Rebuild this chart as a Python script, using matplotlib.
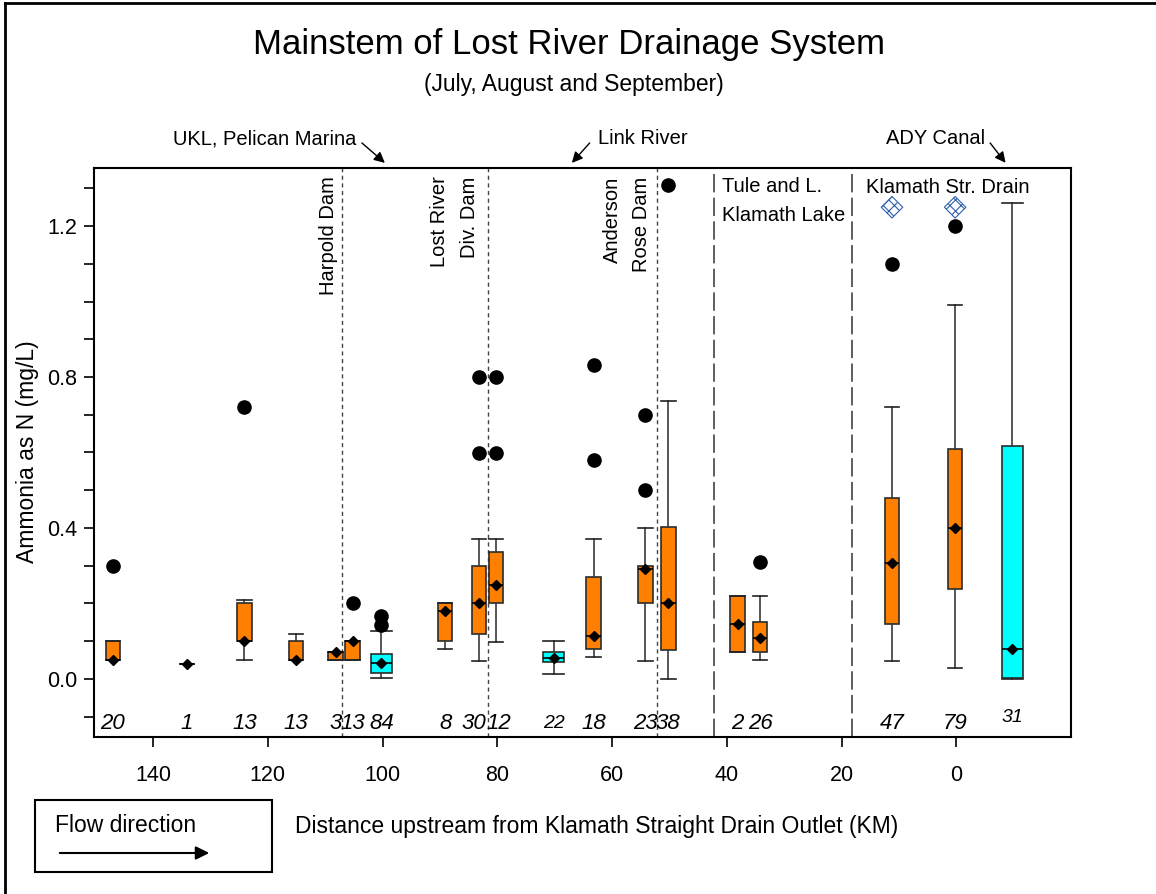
import matplotlib
matplotlib.use("Agg")
import matplotlib.pyplot as plt
from matplotlib.ticker import MultipleLocator, FormatStrFormatter
from matplotlib.lines import Line2D
from matplotlib.patches import Rectangle, FancyArrowPatch

plt.rcParams['font.family'] = ['Liberation Sans', 'DejaVu Sans']
plt.rcParams['hatch.color'] = '#2f5fae'
plt.rcParams['hatch.linewidth'] = 0.8

# sampling sites, distance upstream of the drain outlet (km)
km = [147.0, 134.1, 124.1, 115.1, 108.2, 105.2, 100.2, 89.1, 83.2, 80.2,
      70.2, 63.2, 54.2, 50.2, 38.1, 34.2, 11.2, 0.2, -9.8]
q1 = [0.05, 0.04, 0.10, 0.05, 0.05, 0.05, 0.015, 0.10, 0.118, 0.20,
      0.044, 0.079, 0.20, 0.076, 0.07, 0.07, 0.145, 0.237, 0.002]
med = [0.05, 0.04, 0.10, 0.05, 0.07, 0.10, 0.043, 0.18, 0.20, 0.25,
       0.055, 0.115, 0.29, 0.20, 0.145, 0.108, 0.307, 0.40, 0.078]
q3 = [0.10, 0.04, 0.20, 0.10, 0.07, 0.10, 0.065, 0.20, 0.30, 0.336,
      0.072, 0.269, 0.30, 0.403, 0.22, 0.15, 0.48, 0.61, 0.617]
whislo = [0.05, 0.04, 0.05, 0.05, 0.05, 0.05, 0.003, 0.079, 0.048, 0.099,
          0.013, 0.059, 0.048, 0.0, 0.07, 0.05, 0.047, 0.03, 0.0]
whishi = [0.10, 0.04, 0.21, 0.12, 0.07, 0.10, 0.126, 0.20, 0.37, 0.37,
          0.101, 0.37, 0.40, 0.737, 0.22, 0.22, 0.72, 0.99, 1.262]
outliers = [[0.30], [], [0.72], [], [], [0.20], [0.143, 0.167], [], [0.60, 0.80], [0.60, 0.80],
            [], [0.58, 0.832], [0.50, 0.70], [1.31], [], [0.31], [1.10], [1.20], []]
n_obs = [20, 1, 13, 13, 3, 13, 84, 8, 30, 12, 22, 18, 23, 38, 2, 26, 47, 79, 31]
# 1 = drawn in cyan
highlight = [0, 0, 0, 0, 0, 0, 1, 0, 0, 0, 1, 0, 0, 0, 0, 0, 0, 0, 1]

# values off the scale (hatched markers)
extreme_km = [11.2, 0.2]
extreme_val = [1.25, 1.25]

dam_km = [107.1, 81.6, 52.2]
region_km = [42.2, 18.2]

fig = plt.figure(figsize=(11.56, 8.94), dpi=100)
ax = fig.add_axes([94 / 1156, 157 / 894, 977 / 1156, 569 / 894])
ax.set_xlim(150.3, -20.0)
ax.set_ylim(-0.154, 1.354)

for d in dam_km:
    ax.axvline(d, color='#444444', lw=1.0, dashes=(3, 2.5), zorder=1)
for d in region_km:
    ax.axvline(d, color='#333333', lw=1.1, dashes=(12, 3.5), zorder=1)

stats = []
for i in range(len(km)):
    stats.append(dict(med=med[i], q1=q1[i], q3=q3[i], whislo=whislo[i],
                      whishi=whishi[i], fliers=outliers[i]))

widths = [3.6 if h else 2.55 for h in highlight]
bp = ax.bxp(stats, positions=km, widths=widths, capwidths=widths,
            patch_artist=True, manage_ticks=False,
            boxprops=dict(edgecolor='#2b2b2b', linewidth=1.2),
            whiskerprops=dict(color='#3a3a3a', lw=1.2),
            capprops=dict(color='#222222', lw=1.2),
            medianprops=dict(color='k', lw=1.2),
            flierprops=dict(marker='o', markerfacecolor='k', markeredgecolor='k',
                            markersize=9.5, linestyle='none'))
for patch, h in zip(bp['boxes'], highlight):
    patch.set_facecolor('#00ffff' if h else '#ff8000')

ax.plot(km, med, linestyle='none', marker='D', color='k', markersize=5.5, zorder=4)
ax.scatter(extreme_km, extreme_val, marker='D', s=120, facecolors='none',
           edgecolors='#2f5fae', hatch='xxx', linewidths=0.8, zorder=4)

# sample counts along the bottom
nudge = {8: 0.85, 9: -0.5}
for i, n in enumerate(n_obs):
    small = i in (10, 18)
    ax.text(km[i] + nudge.get(i, 0), -0.103 if i == 18 else -0.117, str(n),
            ha='center', va='center', style='italic', fontsize=14 if small else 16)

# dam / reach labels
ax.text(109.5, 1.332, 'Harpold Dam', rotation=90, ha='center', va='top', fontsize=14.5)
ax.text(90.0, 1.332, 'Lost River', rotation=90, ha='center', va='top', fontsize=14.5)
ax.text(84.8, 1.332, 'Div. Dam', rotation=90, ha='center', va='top', fontsize=14.5)
ax.text(60.0, 1.332, 'Anderson', rotation=90, ha='center', va='top', fontsize=14.5)
ax.text(54.8, 1.332, 'Rose Dam', rotation=90, ha='center', va='top', fontsize=14.5)
ax.text(40.9, 1.306, 'Tule and L.', ha='left', va='center', fontsize=14.5)
ax.text(40.9, 1.229, 'Klamath Lake', ha='left', va='center', fontsize=14.5)
ax.text(15.8, 1.303, 'Klamath Str. Drain', ha='left', va='center', fontsize=14.5)

# labels above the plot with arrows
tr = ax.get_xaxis_transform()
ax.text(104.5, 1.051, 'UKL, Pelican Marina', transform=tr, ha='right', va='center', fontsize=14.5)
ax.text(62.5, 1.051, 'Link River', transform=tr, ha='left', va='center', fontsize=14.5)
ax.text(-5.0, 1.051, 'ADY Canal', transform=tr, ha='right', va='center', fontsize=14.5)
arrows = [((103.6, 1.044), (99.6, 1.009)),
          ((63.9, 1.044), (67.0, 1.009)),
          ((-5.9, 1.044), (-8.6, 1.009))]
for tail, tip in arrows:
    ax.annotate('', xy=tip, xytext=tail, xycoords=tr, textcoords=tr,
                arrowprops=dict(arrowstyle='-|>', color='k', lw=1,
                                mutation_scale=16, shrinkA=0, shrinkB=0),
                annotation_clip=False)

ax.set_xticks([140, 120, 100, 80, 60, 40, 20, 0])
ax.yaxis.set_major_locator(MultipleLocator(0.4))
ax.yaxis.set_minor_locator(MultipleLocator(0.1))
ax.yaxis.set_major_formatter(FormatStrFormatter('%.1f'))
ax.tick_params(axis='both', which='both', direction='out', length=7, width=1.2,
               labelsize=15.5)
ax.tick_params(axis='x', pad=13)
ax.tick_params(axis='y', pad=5)
for s in ax.spines.values():
    s.set_linewidth(1.5)

fig.text(0.4918, 0.9497, 'Mainstem of Lost River Drainage System', ha='center', va='center', fontsize=25)
fig.text(0.496, 0.905, '(July, August and September)', ha='center', va='center', fontsize=16.5)
fig.text(0.0242, 0.4944, 'Ammonia as N (mg/L)', rotation=90, ha='center', va='center', fontsize=16.5)
fig.text(597 / 1156, 68 / 894, 'Distance upstream from Klamath Straight Drain Outlet (KM)',
         ha='center', va='center', fontsize=16.5)

# flow direction box
fig.add_artist(Rectangle((35 / 1156, 22 / 894), 237 / 1156, 72 / 894,
                         transform=fig.transFigure, fill=False, lw=1.5, ec='k'))
fig.text(55 / 1156, 68 / 894, 'Flow direction', ha='left', va='center', fontsize=16.5)
fig.add_artist(FancyArrowPatch((57 / 1156, 41 / 894), (212 / 1156, 41 / 894),
                               transform=fig.transFigure, arrowstyle='-|>',
                               mutation_scale=20, color='k', lw=1.5))

# page border (left and top)
fig.add_artist(Line2D([0.0043, 0.0043], [0, 0.9966], transform=fig.transFigure, color='k', lw=2))
fig.add_artist(Line2D([0.0043, 1], [0.9966, 0.9966], transform=fig.transFigure, color='k', lw=2))

fig.savefig('out.png', dpi=100)
